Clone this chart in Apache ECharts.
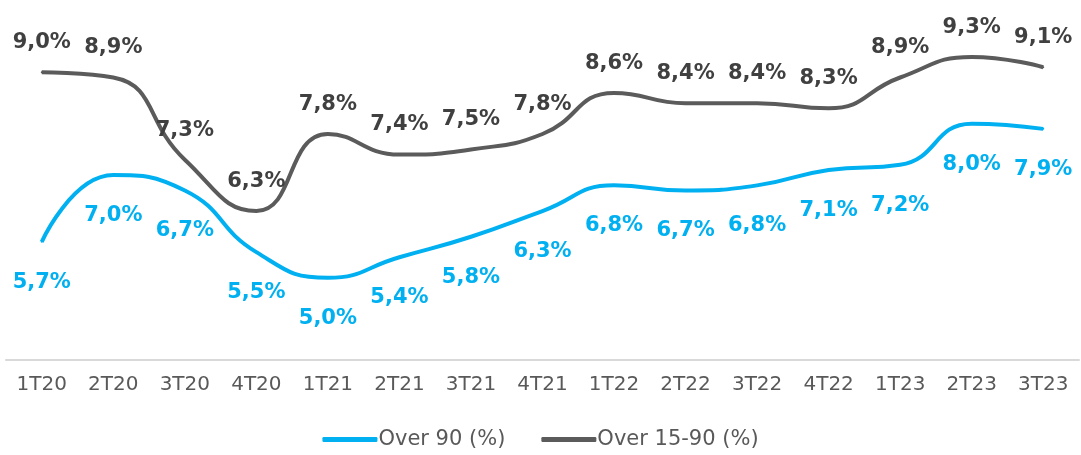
<!DOCTYPE html>
<html>
<head>
	<meta charset="utf-8">
	<script src="https://cdn.jsdelivr.net/npm/echarts@6/dist/echarts.min.js"></script>
	<style>
		html, body { margin: 0; padding: 0; background: #fff; }
		#chart { width: 1081px; height: 455px; }
	</style>
</head>
<body>
	<div id="chart"></div>
<script type="text/javascript">
	var quarters = ['1T20', '2T20', '3T20', '4T20', '1T21', '2T21', '3T21', '4T21', '1T22', '2T22', '3T22', '4T22', '1T23', '2T23', '3T23'];
	var over90 = [5.7, 7.0, 6.7, 5.5, 5.0, 5.4, 5.8, 6.3, 6.8, 6.7, 6.8, 7.1, 7.2, 8.0, 7.9];
	var over1590 = [9.0, 8.9, 7.3, 6.3, 7.8, 7.4, 7.5, 7.8, 8.6, 8.4, 8.4, 8.3, 8.9, 9.3, 9.1];

	var fmt = function(p) { return p.value.toFixed(1).replace('.', ',') + '%'; };
	var myChart = echarts.init(document.getElementById('chart'));
	var option = {
		animation: false,
		grid: { left: 6, right: 2, top: 21, bottom: 95 },
		legend: {
			bottom: 0,
			left: 'center',
			itemWidth: 55,
			itemHeight: 5,
			itemGap: 36,
			icon: 'roundRect',
			textStyle: { color: '#595959', fontSize: 21, fontFamily: 'DejaVu Sans', padding: [0, 0, 0, -4] },
			data: ['Over 90 (%)', 'Over 15-90 (%)']
		},
		xAxis: {
			type: 'category',
			data: quarters,
			axisLine: { lineStyle: { color: '#d9d9d9', width: 2 } },
			axisTick: { show: false },
			axisLabel: { color: '#595959', fontSize: 20, fontFamily: 'DejaVu Sans', margin: 15 }
		},
		yAxis: {
			type: 'value',
			min: 3.4,
			max: 10,
			show: false
		},
		series: [{
			name: 'Over 90 (%)',
			type: 'line',
			smooth: 0.5,
			data: over90,
			symbol: 'circle',
			symbolSize: 2,
			showSymbol: true,
			color: '#00b0f0',
			lineStyle: { width: 4, color: '#00b0f0' },
			labelLayout: { hideOverlap: false },
			label: {
				show: true, position: 'bottom', distance: 29, formatter: fmt,
				color: '#00b0f0', fontSize: 21, fontWeight: 'bold', fontFamily: 'DejaVu Sans'
			}
		}, {
			name: 'Over 15-90 (%)',
			type: 'line',
			smooth: 0.5,
			data: over1590,
			symbol: 'circle',
			symbolSize: 2,
			showSymbol: true,
			color: '#5b5b5b',
			lineStyle: { width: 4, color: '#5b5b5b' },
			labelLayout: { hideOverlap: false },
			label: {
				show: true, position: 'top', distance: 18, formatter: fmt,
				color: '#404040', fontSize: 21, fontWeight: 'bold', fontFamily: 'DejaVu Sans'
			}
		}]
	};
	myChart.setOption(option);
</script>
</body>
</html>
